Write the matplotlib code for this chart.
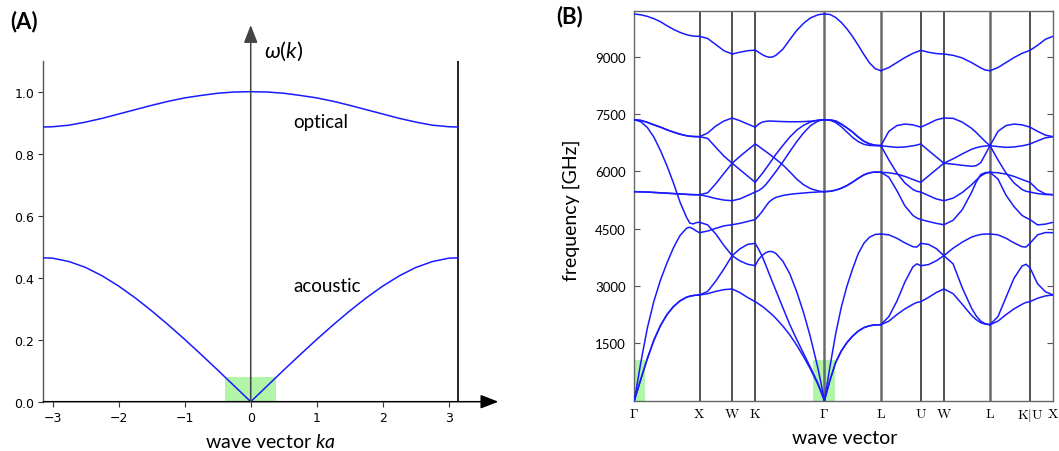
import numpy as np
import matplotlib
matplotlib.use("Agg")
import matplotlib.pyplot as plt
from matplotlib.patches import Rectangle

plt.rcParams['font.family'] = ['Lato', 'DejaVu Sans']
plt.rcParams['mathtext.fontset'] = 'custom'
plt.rcParams['mathtext.rm'] = 'Lato'
plt.rcParams['mathtext.it'] = 'Lato:italic'
plt.rcParams['mathtext.bf'] = 'Lato:bold'
plt.rcParams['mathtext.fallback'] = 'stixsans'

# ---------------- Panel A data (diatomic chain) ----------
ka_half = [0.0, 0.25, 0.5, 0.75, 1.0, 1.25, 1.5, 1.75, 2.0, 2.25, 2.5, 2.75, 3.0, 3.1416]
acoustic_half = [0.000, 0.051, 0.102, 0.152, 0.201, 0.248, 0.293, 0.335, 0.373,
                 0.406, 0.433, 0.452, 0.463, 0.464]
optical_half = [1.000, 0.999, 0.995, 0.988, 0.980, 0.969, 0.956, 0.942, 0.928,
                0.914, 0.902, 0.892, 0.887, 0.886]
xticks_A = [-3, -2, -1, 0, 1, 2, 3]
yticks_A = [0.0, 0.2, 0.4, 0.6, 0.8, 1.0]

# ---------------- Panel B data (phonon bands along k-path) ----------------
path_labels = [r'$\Gamma$', r'$\mathrm{X}$', r'$\mathrm{W}$', r'$\mathrm{K}$', r'$\Gamma$',
               r'$\mathrm{L}$', r'$\mathrm{U}$', r'$\mathrm{W}$', r'$\mathrm{L}$',
               r'$\mathrm{K|U}$', r'$\mathrm{X}$']
seg_lengths = [1.0, 0.5, 0.3536, 1.0607, 0.8660, 0.6124, 0.3536, 0.7071, 0.6124, 0.3536]
yticks_B = [1500, 3000, 4500, 6000, 7500, 9000]

# Gamma - X
gx_t = [0, .1, .2, .3, .4, .5, .6, .7, .8, .85, .9, .95, 1]
gx_f = [
    [10121, 10100, 10060, 10000, 9920, 9815, 9720, 9640, 9580, 9560, 9545, 9538, 9537],
    [7354, 7335, 7285, 7220, 7160, 7090, 7030, 6975, 6935, 6922, 6915, 6911, 6910],
    [7354, 7335, 7285, 7220, 7160, 7090, 7030, 6975, 6935, 6922, 6915, 6911, 6910],
    [7354, 7300, 7150, 6900, 6550, 6150, 5700, 5200, 4800, 4650, 4625, 4660, 4668],
    [5470, 5465, 5460, 5450, 5440, 5430, 5420, 5410, 5400, 5395, 5392, 5390, 5390],
    [5470, 5465, 5460, 5450, 5440, 5430, 5420, 5410, 5400, 5395, 5392, 5390, 5390],
    [0, 1000, 1900, 2600, 3150, 3600, 4000, 4320, 4510, 4540, 4500, 4440, 4396],
    [0, 560, 1100, 1580, 1960, 2250, 2460, 2610, 2705, 2732, 2750, 2760, 2765],
    [0, 560, 1100, 1580, 1960, 2250, 2460, 2610, 2705, 2732, 2750, 2760, 2765],
]
# X - W
xw_t = [0, .25, .5, .75, 1]
xw_f = [
    [9537, 9480, 9320, 9160, 9074],
    [6910, 7005, 7190, 7320, 7398],
    [6910, 6865, 6630, 6400, 6215],
    [5390, 5440, 5680, 5950, 6215],
    [5390, 5345, 5290, 5250, 5233],
    [4668, 4600, 4360, 4060, 3794],
    [4396, 4440, 4510, 4575, 4605],
    [2765, 2860, 3130, 3450, 3794],
    [2765, 2800, 2860, 2905, 2922],
]
# W - K
wk_t = [0, .33, .67, 1]
wk_f = [
    [9074, 9120, 9160, 9175],
    [7398, 7330, 7240, 7160],
    [6215, 6390, 6560, 6718],
    [6215, 6050, 5880, 5715],
    [5233, 5280, 5370, 5460],
    [4605, 4640, 4690, 4740],
    [3794, 3970, 4090, 4117],
    [3794, 3660, 3570, 3532],
    [2922, 2830, 2700, 2590],
]
# K - Gamma
kg_t = [0, .05, .1, .15, .2, .25, .3, .4, .5, .6, .7, .8, .9, .95, 1]
kg_f = [
    [9175, 9120, 9060, 9015, 8990, 8995, 9040, 9200, 9450, 9690, 9880, 10020, 10095, 10115, 10121],
    [7160, 7240, 7290, 7310, 7320, 7318, 7312, 7305, 7300, 7300, 7305, 7315, 7335, 7348, 7354],
    [6718, 6660, 6590, 6525, 6460, 6390, 6320, 6170, 5990, 5800, 5650, 5550, 5495, 5478, 5470],
    [5715, 5830, 5940, 6065, 6190, 6320, 6450, 6680, 6900, 7080, 7210, 7295, 7340, 7350, 7354],
    [5460, 5500, 5560, 5650, 5760, 5880, 6000, 6250, 6520, 6780, 7010, 7200, 7310, 7340, 7354],
    [4740, 4840, 4950, 5080, 5200, 5270, 5320, 5370, 5400, 5420, 5435, 5450, 5460, 5466, 5470],
    [4117, 3960, 3780, 3560, 3330, 3100, 2880, 2430, 1990, 1600, 1230, 860, 480, 250, 0],
    [3532, 3700, 3800, 3870, 3905, 3900, 3850, 3650, 3320, 2850, 2300, 1650, 900, 470, 0],
    [2590, 2530, 2470, 2400, 2320, 2240, 2150, 1950, 1720, 1450, 1150, 820, 450, 230, 0],
]
# Gamma - L
gl_t = [0, .1, .2, .3, .4, .5, .6, .7, .8, .9, 1]
gl_f = [
    [10121, 10110, 10030, 9900, 9730, 9530, 9300, 9060, 8840, 8690, 8637],
    [7354, 7340, 7280, 7170, 7030, 6890, 6780, 6710, 6680, 6675, 6674],
    [7354, 7350, 7320, 7240, 7140, 7030, 6900, 6790, 6720, 6685, 6674],
    [7354, 7350, 7320, 7240, 7140, 7030, 6900, 6790, 6720, 6685, 6674],
    [5470, 5480, 5510, 5560, 5630, 5720, 5820, 5910, 5965, 5985, 5977],
    [5470, 5480, 5510, 5560, 5630, 5720, 5820, 5910, 5965, 5985, 5977],
    [0, 900, 1750, 2450, 3000, 3450, 3850, 4120, 4280, 4350, 4362],
    [0, 540, 1000, 1300, 1520, 1690, 1820, 1910, 1960, 1982, 1988],
    [0, 540, 1000, 1300, 1520, 1690, 1820, 1910, 1960, 1982, 1988],
]
# L - U
lu_t = [0, .2, .4, .6, .8, .9, 1]
lu_f = [
    [8637, 8720, 8850, 8980, 9090, 9130, 9170],
    [6674, 7050, 7200, 7240, 7220, 7190, 7160],
    [6674, 6650, 6630, 6640, 6670, 6690, 6718],
    [6674, 6300, 5960, 5700, 5530, 5480, 5460],
    [5977, 5965, 5930, 5870, 5790, 5750, 5715],
    [5977, 5850, 5500, 5100, 4850, 4780, 4740],
    [4362, 4340, 4250, 4130, 4030, 4020, 4117],
    [1988, 2200, 2600, 3100, 3500, 3580, 3532],
    [1988, 2080, 2250, 2400, 2520, 2570, 2590],
]
# U - W
uw_t = [0, .33, .67, 1]
uw_f = [
    [9170, 9120, 9085, 9074],
    [7160, 7250, 7350, 7398],
    [6718, 6550, 6380, 6215],
    [5715, 5880, 6050, 6215],
    [5460, 5370, 5280, 5233],
    [4740, 4690, 4640, 4605],
    [4117, 4090, 3980, 3794],
    [3532, 3560, 3660, 3794],
    [2590, 2700, 2830, 2922],
]
# W - L
wl_t = [0, .2, .4, .6, .7, .8, .9, 1]
wl_f = [
    [9074, 9040, 8970, 8850, 8780, 8710, 8655, 8637],
    [7398, 7390, 7290, 7130, 7020, 6900, 6780, 6674],
    [6215, 6330, 6460, 6580, 6620, 6650, 6665, 6674],
    [6215, 6190, 6160, 6135, 6150, 6230, 6450, 6674],
    [5233, 5300, 5450, 5650, 5770, 5880, 5950, 5977],
    [4605, 4720, 5000, 5450, 5720, 5920, 5970, 5977],
    [3794, 3990, 4150, 4280, 4320, 4350, 4360, 4362],
    [3794, 3580, 2950, 2420, 2220, 2080, 2010, 1988],
    [2922, 2800, 2520, 2230, 2120, 2040, 2000, 1988],
]
# L - K
lk_t = [0, .2, .4, .6, .8, .9, 1]
lk_f = [
    [8637, 8720, 8850, 8980, 9090, 9130, 9170],
    [6674, 7050, 7200, 7240, 7220, 7190, 7160],
    [6674, 6650, 6630, 6640, 6670, 6690, 6718],
    [6674, 6300, 5960, 5700, 5530, 5480, 5460],
    [5977, 5965, 5930, 5870, 5790, 5750, 5715],
    [5977, 5800, 5380, 5080, 4850, 4790, 4740],
    [4362, 4340, 4250, 4130, 4030, 4020, 4117],
    [1988, 2200, 2700, 3200, 3520, 3570, 3480],
    [1988, 2080, 2250, 2400, 2520, 2570, 2590],
]
# U - X
ux_t = [0, .33, .67, 1]
ux_f = [
    [9170, 9300, 9460, 9537],
    [7160, 7050, 6950, 6910],
    [6718, 6800, 6880, 6910],
    [5715, 5520, 5410, 5390],
    [5460, 5420, 5395, 5390],
    [4740, 4600, 4620, 4668],
    [4117, 4340, 4400, 4396],
    [3480, 3060, 2850, 2765],
    [2590, 2680, 2740, 2765],
]
segments = [(gx_t, gx_f), (xw_t, xw_f), (wk_t, wk_f), (kg_t, kg_f), (gl_t, gl_f),
            (lu_t, lu_f), (uw_t, uw_f), (wl_t, wl_f), (lk_t, lk_f), (ux_t, ux_f)]

BLUE = '#1a1aff'
GREEN = '#b0f5a8'

fig = plt.figure(figsize=(10.59, 4.52), dpi=100)

# ======================= Panel A =======================
axA = fig.add_axes([43.3 / 1059, 49.3 / 452, (497 - 43.3) / 1059, (402.7 - 61.7) / 452])
ka_half_arr = np.asarray(ka_half)
ka = np.concatenate([-ka_half_arr[::-1], ka_half_arr[1:]])
acoustic = np.concatenate([np.asarray(acoustic_half)[::-1], np.asarray(acoustic_half)[1:]])
optical = np.concatenate([np.asarray(optical_half)[::-1], np.asarray(optical_half)[1:]])

axA.add_patch(Rectangle((-0.39, 0), 0.78, 0.079, color=GREEN, zorder=1, lw=0))
axA.plot(ka, optical, color=BLUE, lw=1.1, zorder=3)
axA.plot(ka, acoustic, color=BLUE, lw=1.1, zorder=3)
axA.plot([np.pi, np.pi], [0, 1.1], color='black', lw=1.2, zorder=2)
axA.set_xlim(-np.pi, 3.73)
axA.set_ylim(0, 1.1)
for s in ['top', 'right', 'bottom']:
    axA.spines[s].set_visible(False)
axA.spines['left'].set_color('#555555')
axA.spines['left'].set_linewidth(1.0)
axA.annotate('', xy=(3.75, 0), xytext=(-np.pi, 0),
             arrowprops=dict(arrowstyle='-|>,head_length=0.9,head_width=0.35', color='black',
                             lw=1.1, shrinkA=0, shrinkB=0, mutation_scale=12),
             annotation_clip=False, zorder=4)
axA.annotate('', xy=(0, 1.215), xytext=(0, 0),
             arrowprops=dict(arrowstyle='-|>,head_length=0.9,head_width=0.35', color='#444444',
                             lw=1.1, shrinkA=0, shrinkB=0, mutation_scale=12),
             annotation_clip=False, zorder=4)
axA.set_xticks(xticks_A)
axA.set_xticklabels(['\u2212%d' % -v if v < 0 else '%d' % v for v in xticks_A])
axA.set_yticks(yticks_A)
axA.set_yticklabels(['%.1f' % v for v in yticks_A])
axA.tick_params(axis='both', labelsize=9, length=3.5, width=0.8, pad=3, color='#333333')
for lab in axA.get_xticklabels() + axA.get_yticklabels():
    lab.set_fontfamily('DejaVu Sans')
axA.text(0.2, 1.134, r'$\omega(k)$', fontsize=16, ha='left', va='center')
axA.text(0.65, 0.905, 'optical', fontsize=13.5, ha='left', va='center')
axA.text(0.65, 0.374, 'acoustic', fontsize=13.5, ha='left', va='center')
fig.text(270 / 1059, 1 - 448 / 452, 'wave vector $ka$', fontsize=14, ha='center', va='baseline')
fig.text(10 / 1059, 1 - 22 / 452, '(A)', fontsize=16, fontweight='bold', ha='left', va='center')

# ======================= Panel B =======================
axB = fig.add_axes([634.3 / 1059, 50.4 / 452, (1053 - 634.3) / 1059, (401.6 - 12) / 452])
kpos = np.concatenate([[0.0], np.cumsum(seg_lengths)])
axB.add_patch(Rectangle((0, 0), 0.168, 1063, color=GREEN, lw=0, zorder=1))
axB.add_patch(Rectangle((kpos[4] - 0.168, 0), 0.336, 1063, color=GREEN, lw=0, zorder=1))
gray_points = [4, 5, 8]
for i in range(1, len(kpos) - 1):
    if i in gray_points:
        axB.axvline(kpos[i], color='#6a6a6a', lw=1.8, zorder=2)
    else:
        axB.axvline(kpos[i], color='#222222', lw=1.1, zorder=2)
for i, (t, bands) in enumerate(segments):
    k = kpos[i] + np.asarray(t) * seg_lengths[i]
    for f in bands:
        axB.plot(k, f, color=BLUE, lw=1.1, zorder=3, solid_joinstyle='round')
axB.set_xlim(0, kpos[-1])
axB.set_ylim(0, 10200)
axB.set_yticks(yticks_B)
axB.set_yticklabels([str(v) for v in yticks_B])
axB.tick_params(axis='y', direction='in', left=True, right=True, length=4, width=0.8,
                labelsize=9.5, pad=6, color='#555555')
axB.set_xticks(kpos)
axB.set_xticklabels(path_labels)
axB.tick_params(axis='x', length=0, pad=4, labelsize=10)
for lab in axB.get_xticklabels():
    lab.set_math_fontfamily('cm')
for s in axB.spines.values():
    s.set_color('#666666')
    s.set_linewidth(1.0)
fig.text(571.7 / 1059, 1 - 210 / 452, 'frequency [GHz]', fontsize=14, rotation=90,
         ha='center', va='center')
fig.text(845 / 1059, 1 - 444 / 452, 'wave vector', fontsize=14, ha='center', va='baseline')
fig.text(556 / 1059, 1 - 17 / 452, '(B)', fontsize=16, fontweight='bold', ha='left', va='center')

fig.savefig('out.png', dpi=100)
